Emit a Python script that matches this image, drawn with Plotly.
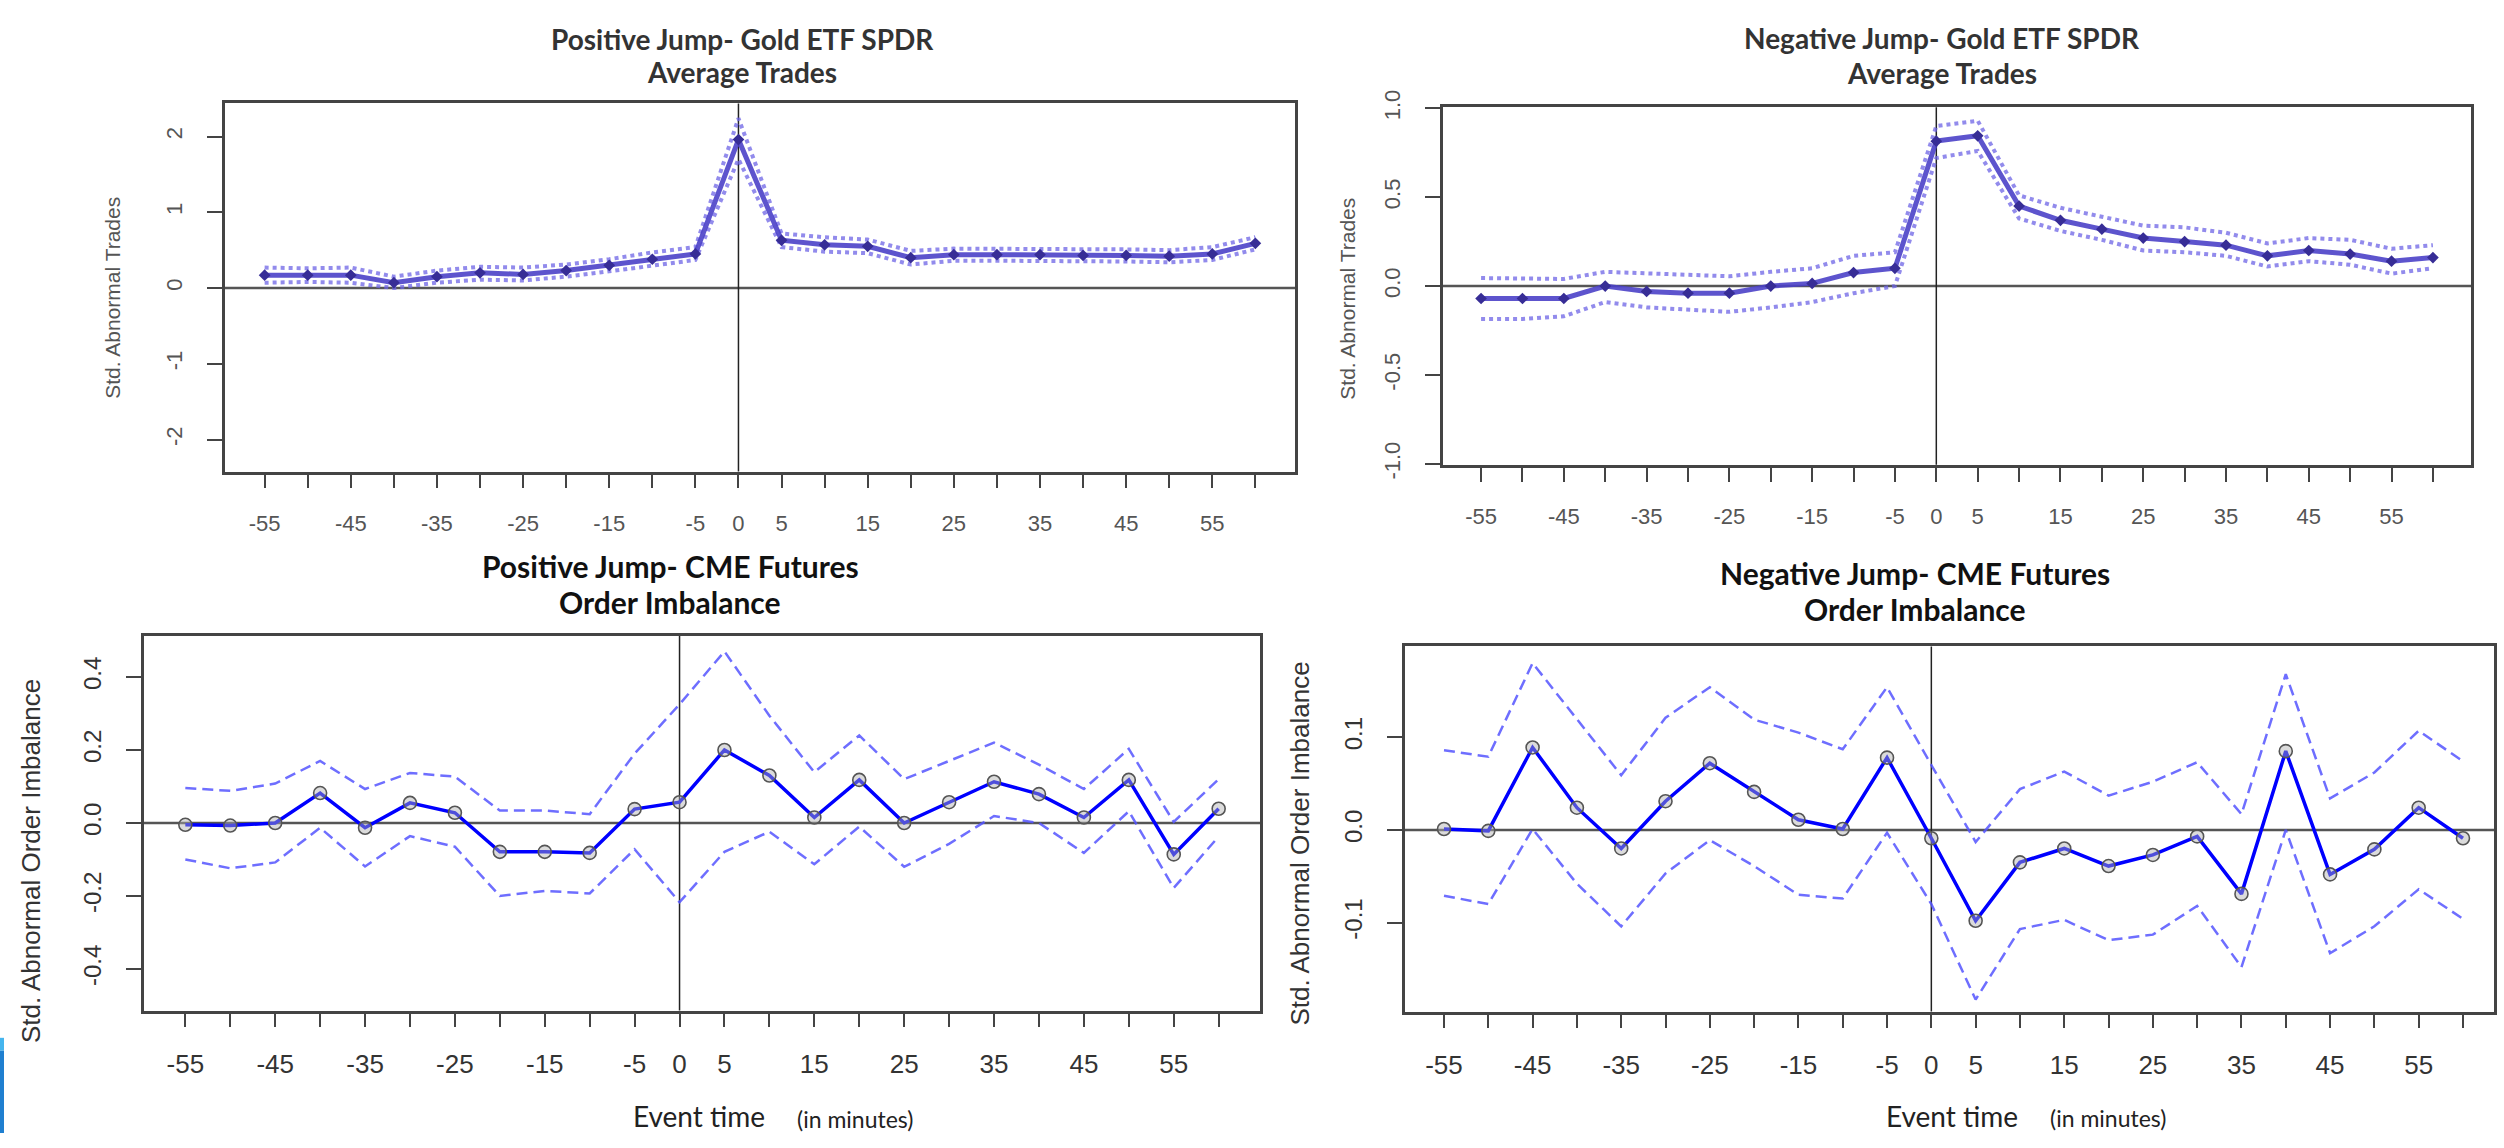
import plotly.graph_objects as go

W, H = 2504, 1148

# ---------------- data ----------------
minutes = [-55, -50, -45, -40, -35, -30, -25, -20, -15, -10, -5, 0,
           5, 10, 15, 20, 25, 30, 35, 40, 45, 50, 55, 60]
x_tick_text = ["-55", "", "-45", "", "-35", "", "-25", "", "-15", "", "-5", "0",
               "5", "", "15", "", "25", "", "35", "", "45", "", "55", ""]

# Positive jump - Gold ETF SPDR, average trades
pos_etf_mean = [0.17, 0.17, 0.17, 0.07, 0.15, 0.20, 0.18, 0.23, 0.30, 0.38, 0.45, 1.96,
                0.63, 0.57, 0.55, 0.40, 0.44, 0.44, 0.44, 0.43, 0.43, 0.42, 0.45, 0.59]
pos_etf_upper = [0.27, 0.26, 0.27, 0.15, 0.23, 0.28, 0.27, 0.31, 0.38, 0.47, 0.54, 2.24,
                 0.72, 0.67, 0.64, 0.49, 0.52, 0.52, 0.52, 0.51, 0.51, 0.50, 0.54, 0.67]
pos_etf_lower = [0.07, 0.08, 0.07, 0.00, 0.07, 0.11, 0.10, 0.15, 0.22, 0.30, 0.37, 1.70,
                 0.54, 0.48, 0.46, 0.31, 0.36, 0.36, 0.36, 0.35, 0.35, 0.34, 0.37, 0.51]

# Negative jump - Gold ETF SPDR, average trades
neg_etf_mean = [-0.07, -0.07, -0.07, 0.0, -0.03, -0.04, -0.04, 0.0, 0.015, 0.076, 0.10, 0.815,
                0.845, 0.45, 0.37, 0.32, 0.27, 0.25, 0.23, 0.17, 0.20, 0.18, 0.14, 0.16]
neg_etf_upper = [0.045, 0.04, 0.04, 0.08, 0.07, 0.06, 0.055, 0.08, 0.10, 0.17, 0.19, 0.90,
                 0.93, 0.51, 0.44, 0.39, 0.34, 0.33, 0.30, 0.24, 0.27, 0.26, 0.21, 0.23]
neg_etf_lower = [-0.185, -0.185, -0.17, -0.09, -0.12, -0.13, -0.145, -0.12, -0.09, -0.04, 0.0, 0.72,
                 0.76, 0.38, 0.31, 0.26, 0.20, 0.19, 0.17, 0.11, 0.14, 0.12, 0.07, 0.10]

# Positive jump - CME futures, order imbalance
pos_cme_mean = [-0.005, -0.007, 0.0, 0.082, -0.013, 0.055, 0.028, -0.079, -0.079, -0.082, 0.038, 0.057,
                0.20, 0.13, 0.015, 0.118, 0.0, 0.057, 0.113, 0.079, 0.015, 0.118, -0.086, 0.039]
pos_cme_upper = [0.096, 0.088, 0.108, 0.17, 0.093, 0.137, 0.127, 0.034, 0.034, 0.024, 0.19, 0.325,
                 0.47, 0.294, 0.139, 0.24, 0.12, 0.17, 0.22, 0.16, 0.093, 0.203, 0.003, 0.12]
pos_cme_lower = [-0.10, -0.124, -0.108, -0.013, -0.119, -0.036, -0.065, -0.20, -0.186, -0.193, -0.072, -0.217,
                 -0.079, -0.024, -0.113, -0.01, -0.12, -0.057, 0.019, 0.0, -0.082, 0.032, -0.178, -0.037]

# Negative jump - CME futures, order imbalance
neg_cme_mean = [0.001, -0.001, 0.089, 0.024, -0.02, 0.031, 0.072, 0.041, 0.011, 0.001, 0.078, -0.009,
                -0.098, -0.035, -0.02, -0.039, -0.027, -0.007, -0.069, 0.085, -0.048, -0.021, 0.024, -0.009]
neg_cme_upper = [0.086, 0.079, 0.18, 0.119, 0.059, 0.121, 0.154, 0.119, 0.105, 0.087, 0.154, 0.07,
                 -0.013, 0.044, 0.063, 0.037, 0.052, 0.073, 0.017, 0.168, 0.034, 0.062, 0.107, 0.074]
neg_cme_lower = [-0.071, -0.08, 0.001, -0.058, -0.104, -0.047, -0.011, -0.039, -0.07, -0.074, -0.003, -0.08,
                 -0.183, -0.107, -0.097, -0.119, -0.113, -0.082, -0.148, 0.0, -0.133, -0.104, -0.064, -0.096]

# ---------------- layout helpers ----------------
def px(x):
    return x / W

def py(y):
    return 1 - y / H

R_FONT = "Liberation Sans, Arial, sans-serif"
T_FONT = "Lato, Liberation Sans, sans-serif"

panels = [
    dict(ax="", box=(225, 88, 1295, 467), xr=[-59.6, 64.6], yr=[-2.423, 2.436],
         yt=[-2, -1, 0, 1, 2], ytt=["-2", "-1", "0", "1", "2"], top=True,
         mean=pos_etf_mean, up=pos_etf_upper, lo=pos_etf_lower),
    dict(ax="2", box=(1443, 92, 2471, 460), xr=[-59.6, 64.6], yr=[-1.005, 1.005],
         yt=[-1.0, -0.5, 0.0, 0.5, 1.0], ytt=["-1.0", "-0.5", "0.0", "0.5", "1.0"], top=True,
         mean=neg_etf_mean, up=neg_etf_upper, lo=neg_etf_lower),
    dict(ax="3", box=(144, 636, 1260, 1022), xr=[-59.6, 64.6], yr=[-0.514, 0.513],
         yt=[-0.4, -0.2, 0.0, 0.2, 0.4], ytt=["-0.4", "-0.2", "0.0", "0.2", "0.4"], top=False,
         mean=pos_cme_mean, up=pos_cme_upper, lo=pos_cme_lower),
    dict(ax="4", box=(1405, 647, 2494, 1023), xr=[-59.4, 63.5], yr=[-0.196, 0.198],
         yt=[-0.1, 0.0, 0.1], ytt=["-0.1", "0.0", "0.1"], top=False,
         mean=neg_cme_mean, up=neg_cme_upper, lo=neg_cme_lower),
]

fig = go.Figure()
layout = dict(width=W, height=H, margin=dict(l=0, r=0, t=0, b=0), autosize=False,
              paper_bgcolor="white", plot_bgcolor="white", showlegend=False)
shapes = []

for p in panels:
    a = p["ax"]
    xa, ya = "x" + a, "y" + a
    l, t, r, b = p["box"]
    top = p["top"]
    if top:
        band_col = "rgba(110,100,230,0.75)"
        band_dash = "4px,4px"
        band_w = 4
        line_col = "rgba(75,65,200,0.9)"
        line_w = 5
        marker = dict(symbol="diamond", size=9, color="rgb(55,45,150)")
        tick_col = "#555555"
        xfs, yfs = 22, 22
    else:
        band_col = "rgba(85,85,255,0.85)"
        band_dash = "11px,6px"
        band_w = 2.5
        line_col = "#0000ff"
        line_w = 3.5
        marker = dict(symbol="circle", size=13, color="rgba(175,175,175,0.45)",
                      line=dict(color="#555555", width=1.6))
        tick_col = "#333333"
        xfs, yfs = 26, 24

    for yy in (p["up"], p["lo"]):
        fig.add_trace(go.Scatter(x=minutes, y=yy, mode="lines", xaxis=xa, yaxis=ya,
                                 line=dict(color=band_col, width=band_w, dash=band_dash),
                                 hoverinfo="skip"))
    fig.add_trace(go.Scatter(x=minutes, y=p["mean"], mode="lines+markers", xaxis=xa, yaxis=ya,
                             line=dict(color=line_col, width=line_w), marker=marker))

    xkey = "xaxis" + a
    ykey = "yaxis" + a
    layout[xkey] = dict(domain=[px(l), px(r)], range=p["xr"], anchor=ya,
                        tickmode="array", tickvals=minutes, ticktext=x_tick_text,
                        ticks="outside", ticklen=14, tickwidth=2, tickcolor="#444444",
                        showline=True, linecolor="#444444", linewidth=2.5, mirror=True,
                        showgrid=False, zeroline=False, ticklabelstandoff=14 if not top else 16,
                        tickfont=dict(family=R_FONT, size=xfs, color=tick_col))
    layout[ykey] = dict(domain=[py(b), py(t)], range=p["yr"], anchor=xa,
                        tickmode="array", tickvals=p["yt"], ticktext=p["ytt"], tickangle=-90,
                        ticks="outside", ticklen=15, tickwidth=2, tickcolor="#444444",
                        showline=True, linecolor="#444444", linewidth=2.5, mirror=True,
                        showgrid=False, zeroline=False, ticklabelstandoff=16,
                        tickfont=dict(family=R_FONT, size=yfs, color=tick_col))
    shapes.append(dict(type="line", xref=xa + " domain", yref=ya, x0=0, x1=1, y0=0, y1=0,
                       line=dict(color="#555555", width=2.5), layer="below"))
    shapes.append(dict(type="line", xref=xa, yref=ya + " domain", x0=0, x1=0, y0=0, y1=1,
                       line=dict(color="#222222", width=1.5), layer="below"))

# blue slide edge fragment at bottom-left
shapes.append(dict(type="rect", xref="paper", yref="paper", x0=0, x1=px(4), y0=0, y1=py(1063),
                   fillcolor="#1f7fd0", line=dict(width=0)))
shapes.append(dict(type="rect", xref="paper", yref="paper", x0=0, x1=px(4), y0=py(1063), y1=py(1050),
                   fillcolor="#45b5ee", line=dict(width=0)))

layout["shapes"] = shapes

ann = []
def text(x, y, s, size, bold=False, color="#222222", family=T_FONT, angle=0):
    ann.append(dict(x=px(x), y=py(y), xref="paper", yref="paper", text=("<b>%s</b>" % s) if bold else s,
                    showarrow=False, xanchor="center", yanchor="middle", textangle=angle,
                    font=dict(family=family, size=size, color=color)))

# panel titles
text(742, 22, "Positive Jump- Gold ETF SPDR", 28, bold=True, color="#333333")
text(742, 56, "Average Trades", 28, bold=True, color="#333333")
text(1942, 21, "Negative Jump- Gold ETF SPDR", 28, bold=True, color="#333333")
text(1942, 57, "Average Trades", 28, bold=True, color="#333333")
text(670, 564, "Positive Jump- CME Futures", 30, bold=True, color="#111111")
text(670, 601, "Order Imbalance", 30, bold=True, color="#111111")
text(1915, 571, "Negative Jump- CME Futures", 30, bold=True, color="#111111")
text(1915, 609, "Order Imbalance", 30, bold=True, color="#111111")

# y-axis titles
text(113, 288, "Std. Abnormal Trades", 21, color="#555555", family=R_FONT, angle=-90)
text(1348, 289, "Std. Abnormal Trades", 21, color="#555555", family=R_FONT, angle=-90)
text(31, 868, "Std. Abnormal Order Imbalance", 26, color="#333333", family=R_FONT, angle=-90)
text(1300, 850, "Std. Abnormal Order Imbalance", 26, color="#333333", family=R_FONT, angle=-90)

# x-axis titles
text(699, 1131, "Event time", 28, color="#222222")
text(855, 1134, "(in minutes)", 23, color="#222222")
text(1952, 1130, "Event time", 28, color="#222222")
text(2108, 1133, "(in minutes)", 23, color="#222222")

layout["annotations"] = ann
fig.update_layout(**layout)
fig.write_html("out.html")
